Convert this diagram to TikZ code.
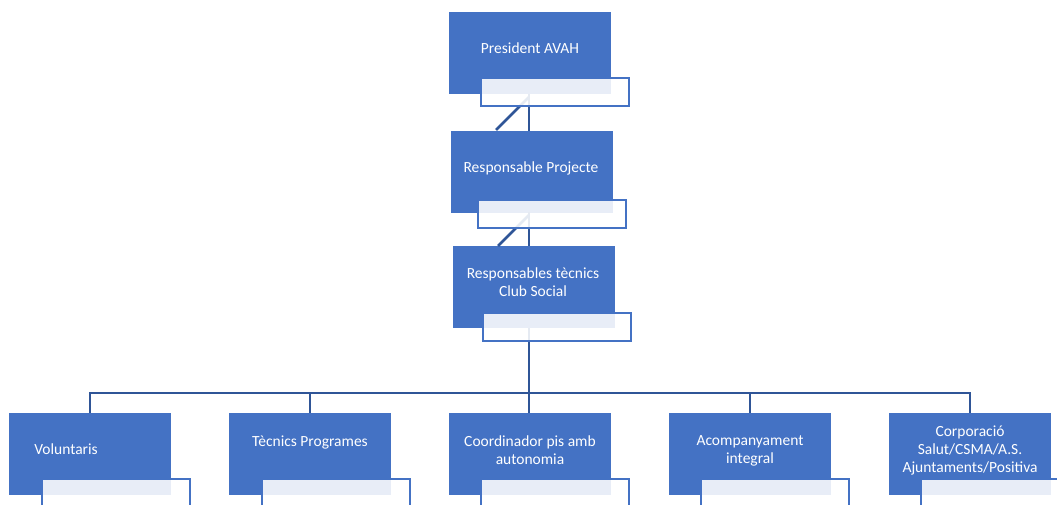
\documentclass[tikz,border=0pt]{standalone}
\usepackage{fontspec}
\setmainfont{Carlito}
\definecolor{boxblue}{HTML}{4472C4}
\definecolor{linkblue}{HTML}{2F5597}
\begin{document}
\begin{tikzpicture}[x=1pt,y=-1pt,
  bluebox/.style={draw=none,fill=boxblue,anchor=north west,minimum width=162pt,minimum height=82pt,inner sep=0pt},
  subbox/.style={draw=boxblue,line width=2.3pt,fill=white,fill opacity=0.88,anchor=north west,minimum width=148pt,minimum height=28pt,inner sep=0pt},
  lbl/.style={text=white,font=\fontsize{15.5}{18}\selectfont,align=center,inner sep=0pt},
  link/.style={draw=linkblue,line width=2.6pt}]
\useasboundingbox (0,0) rectangle (1057,504);
\clip (0,0) rectangle (1057,504);
% blue boxes
\node[bluebox] (b1) at (449,12) {};
\node[bluebox] (b2) at (451,131) {};
\node[bluebox] (b3) at (453,246) {};
\node[bluebox] (c1) at (9,413) {};
\node[bluebox] (c2) at (229,413) {};
\node[bluebox] (c3) at (449,413) {};
\node[bluebox] (c4) at (669,413) {};
\node[bluebox] (c5) at (889,413) {};
% labels
\node[lbl] (t1) at (530,48) {President AVAH};
\node[lbl] (t2) at (531,168) {Responsable Projecte};
\node[lbl] (t3) at (533,282) {Responsables tècnics\\Club Social};
\node[lbl] (u1) at (66,449) {Voluntaris};
\node[lbl] (u2) at (310,442) {Tècnics Programes};
\node[lbl] (u3) at (530,450) {Coordinador pis amb\\autonomia};
\node[lbl] (u4) at (750,451) {Acompanyament\\integral};
\node[lbl] (u5) at (970,450) {Corporació\\Salut/CSMA/A.S.\\Ajuntaments/Positiva};
% connector points
\coordinate (p1) at (529,94);
\coordinate (q1) at (529,131);
\coordinate (d1a) at (529,97);
\coordinate (d1b) at (496,130);
\coordinate (p2) at (529,212);
\coordinate (q2) at (529,246);
\coordinate (d2a) at (529,215);
\coordinate (d2b) at (498,246);
\coordinate (p3) at (529,328);
\coordinate (bus) at (529,393);
\coordinate (k1) at (90,393);
\coordinate (k2) at (310,393);
\coordinate (k4) at (750,393);
\coordinate (k5) at (970,393);
% connectors
\draw[link] (p1) -- (q1);
\draw[link] (d1a) -- (d1b);
\draw[link] (p2) -- (q2);
\draw[link] (d2a) -- (d2b);
\draw[link] (p3) -- (bus);
\draw[link] (k1 |- c1.north) -- (k1) -- (k5) -- (k5 |- c5.north);
\draw[link] (k2) -- (k2 |- c2.north);
\draw[link] (bus) -- (bus |- c3.north);
\draw[link] (k4) -- (k4 |- c4.north);
% white sub boxes
\node[subbox] (w1) at (480,77) {};
\node[subbox] (w2) at (477,199) {};
\node[subbox] (w3) at (482,312) {};
\node[subbox] (v1) at (41,478) {};
\node[subbox] (v2) at (261,478) {};
\node[subbox] (v3) at (480,478) {};
\node[subbox] (v4) at (700,478) {};
\node[subbox] (v5) at (920,478) {};
\end{tikzpicture}
\end{document}
